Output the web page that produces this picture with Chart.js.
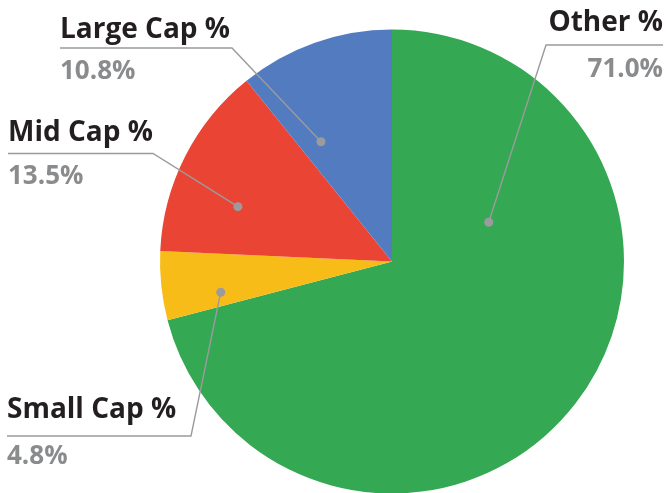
<!DOCTYPE html>
<html>
<head>
<meta charset="utf-8">
<script src="https://cdn.jsdelivr.net/npm/chart.js@4/dist/chart.umd.min.js"></script>
<style>
  html, body { margin: 0; padding: 0; background: #fff; }
  #wrap { width: 668px; height: 493px; overflow: hidden; }
</style>
</head>
<body>
<div id="wrap"><canvas id="c" width="668" height="493"></canvas></div>
<script>
const categories = ['Other %', 'Small Cap %', 'Mid Cap %', 'Large Cap %'];
const values = [71.0, 4.8, 13.5, 10.8];
const colors = ['#34A853', '#F8BC18', '#EA4435', '#527BC0'];

// label placement (annotation layout only)
const labelLayout = [
  { align: 'right', x: 663, nameY: 31, lineY: 45, valueY: 77, kneeX: 546, t: 0.266, rf: 0.45 },
  { align: 'left',  x: 7,   nameY: 418, lineY: 436, valueY: 464, kneeX: 191, t: 0.26, rf: 0.75 },
  { align: 'left',  x: 8,   nameY: 141, lineY: 153.5, valueY: 184, kneeX: 153, t: 0.35, rf: 0.705 },
  { align: 'left',  x: 60,  nameY: 37.5, lineY: 48, valueY: 79, kneeX: 232, t: 0.21, rf: 0.6 }
];

const calloutPlugin = {
  id: 'callouts',
  afterDatasetsDraw(chart) {
    const ctx = chart.ctx;
    const meta = chart.getDatasetMeta(0);
    meta.data.forEach((arc, i) => {
      const L = labelLayout[i];
      const p = arc.getProps(['x', 'y', 'startAngle', 'endAngle', 'outerRadius'], true);
      const a = p.startAngle + L.t * (p.endAngle - p.startAngle);
      const dx = p.x + Math.cos(a) * p.outerRadius * L.rf;
      const dy = p.y + Math.sin(a) * p.outerRadius * L.rf;
      ctx.save();
      ctx.strokeStyle = '#9b9b9d';
      ctx.lineWidth = 1.4;
      ctx.beginPath();
      ctx.moveTo(dx, dy);
      ctx.lineTo(L.kneeX, L.lineY);
      ctx.lineTo(L.x, L.lineY);
      ctx.stroke();
      ctx.fillStyle = '#9b9b9d';
      ctx.beginPath();
      ctx.arc(dx, dy, 4.5, 0, Math.PI * 2);
      ctx.fill();
      ctx.textAlign = L.align;
      ctx.textBaseline = 'alphabetic';
      ctx.fillStyle = '#231F20';
      ctx.font = 'bold 28px "Open Sans"';
      ctx.fillText(categories[i], L.x, L.nameY);
      ctx.fillStyle = '#8A8B8D';
      ctx.font = 'bold 26px "Open Sans"';
      ctx.fillText(values[i].toFixed(1) + '%', L.x, L.valueY);
      ctx.restore();
    });
  }
};

new Chart(document.getElementById('c'), {
  type: 'pie',
  data: {
    labels: categories,
    datasets: [{
      data: values,
      backgroundColor: colors,
      borderWidth: 0
    }]
  },
  options: {
    responsive: false,
    animation: false,
    radius: 232,
    layout: { padding: { top: 30, bottom: 0, left: 160, right: 44 } },
    plugins: { legend: { display: false }, tooltip: { enabled: false } }
  },
  plugins: [calloutPlugin]
});
</script>
</body>
</html>
